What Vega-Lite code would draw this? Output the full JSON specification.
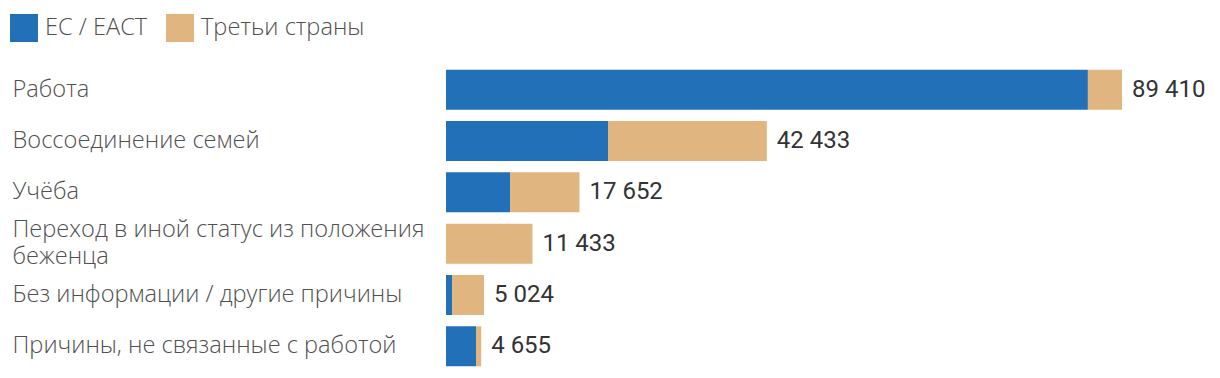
{
  "$schema": "https://vega.github.io/schema/vega-lite/v6.json",
  "autosize": {"type": "none"},
  "width": 676,
  "height": 308,
  "padding": {"left": 446, "right": 98, "top": 64, "bottom": 6},
  "background": "white",
  "config": {
    "view": {"stroke": null},
    "locale": {"number": {"decimal": ",", "thousands": " ", "grouping": [3], "currency": ["", ""]}}
  },
  "data": {
    "values": [
      {"category": "Работа", "group": "ЕС / ЕАСТ", "value": 84900},
      {"category": "Работа", "group": "Третьи страны", "value": 4510},
      {"category": "Воссоединение семей", "group": "ЕС / ЕАСТ", "value": 21430},
      {"category": "Воссоединение семей", "group": "Третьи страны", "value": 21003},
      {"category": "Учёба", "group": "ЕС / ЕАСТ", "value": 8470},
      {"category": "Учёба", "group": "Третьи страны", "value": 9182},
      {"category": "Переход в иной статус из положения беженца", "group": "ЕС / ЕАСТ", "value": 0},
      {"category": "Переход в иной статус из положения беженца", "group": "Третьи страны", "value": 11433},
      {"category": "Без информации / другие причины", "group": "ЕС / ЕАСТ", "value": 800},
      {"category": "Без информации / другие причины", "group": "Третьи страны", "value": 4224},
      {"category": "Причины, не связанные с работой", "group": "ЕС / ЕАСТ", "value": 3970},
      {"category": "Причины, не связанные с работой", "group": "Третьи страны", "value": 685}
    ]
  },
  "encoding": {
    "y": {
      "field": "category",
      "type": "nominal",
      "sort": null,
      "scale": {"paddingInner": 0.22, "paddingOuter": 0.11},
      "axis": {
        "title": null,
        "ticks": false,
        "domain": false,
        "labelAlign": "left",
        "labelPadding": 434,
        "labelLimit": 440,
        "labelFont": "Open Sans",
        "labelFontWeight": 300,
        "labelFontSize": 23.6,
        "labelColor": "#505050",
        "labelLineHeight": 27,
        "labelExpr": "datum.value == 'Переход в иной статус из положения беженца' ? ['Переход в иной статус из положения', 'беженца'] : datum.value",
        "labelOffset": {"condition": {"test": "datum.value == 'Переход в иной статус из положения беженца'", "value": -13.5}, "value": 0}
      }
    }
  },
  "layer": [
    {
      "mark": {"type": "bar"},
      "encoding": {
        "x": {
          "field": "value",
          "type": "quantitative",
          "stack": "zero",
          "scale": {"domain": [0, 89410], "nice": false},
          "axis": null
        },
        "color": {
          "field": "group",
          "type": "nominal",
          "scale": {"domain": ["ЕС / ЕАСТ", "Третьи страны"], "range": ["#2170b8", "#e0b57f"]},
          "legend": {
            "title": null,
            "orient": "none",
            "legendX": -436,
            "legendY": -50,
            "direction": "horizontal",
            "symbolType": "square",
            "symbolSize": 784,
            "symbolStrokeWidth": 0,
            "symbolOpacity": 1,
            "labelFont": "Open Sans",
            "labelFontWeight": 300,
            "labelFontSize": 23.6,
            "labelColor": "#505050",
            "labelOffset": 7,
            "labelLimit": 400,
            "columnPadding": 18
          }
        },
        "order": {"field": "group", "sort": "ascending"}
      }
    },
    {
      "transform": [
        {"aggregate": [{"op": "sum", "field": "value", "as": "total"}], "groupby": ["category"]}
      ],
      "mark": {"type": "text", "align": "left", "baseline": "middle", "dx": 10, "font": "Roboto", "fontWeight": 400, "fontSize": 24, "color": "#333333"},
      "encoding": {
        "x": {"field": "total", "type": "quantitative"},
        "text": {"field": "total", "type": "quantitative", "format": ",d"}
      }
    }
  ]
}
